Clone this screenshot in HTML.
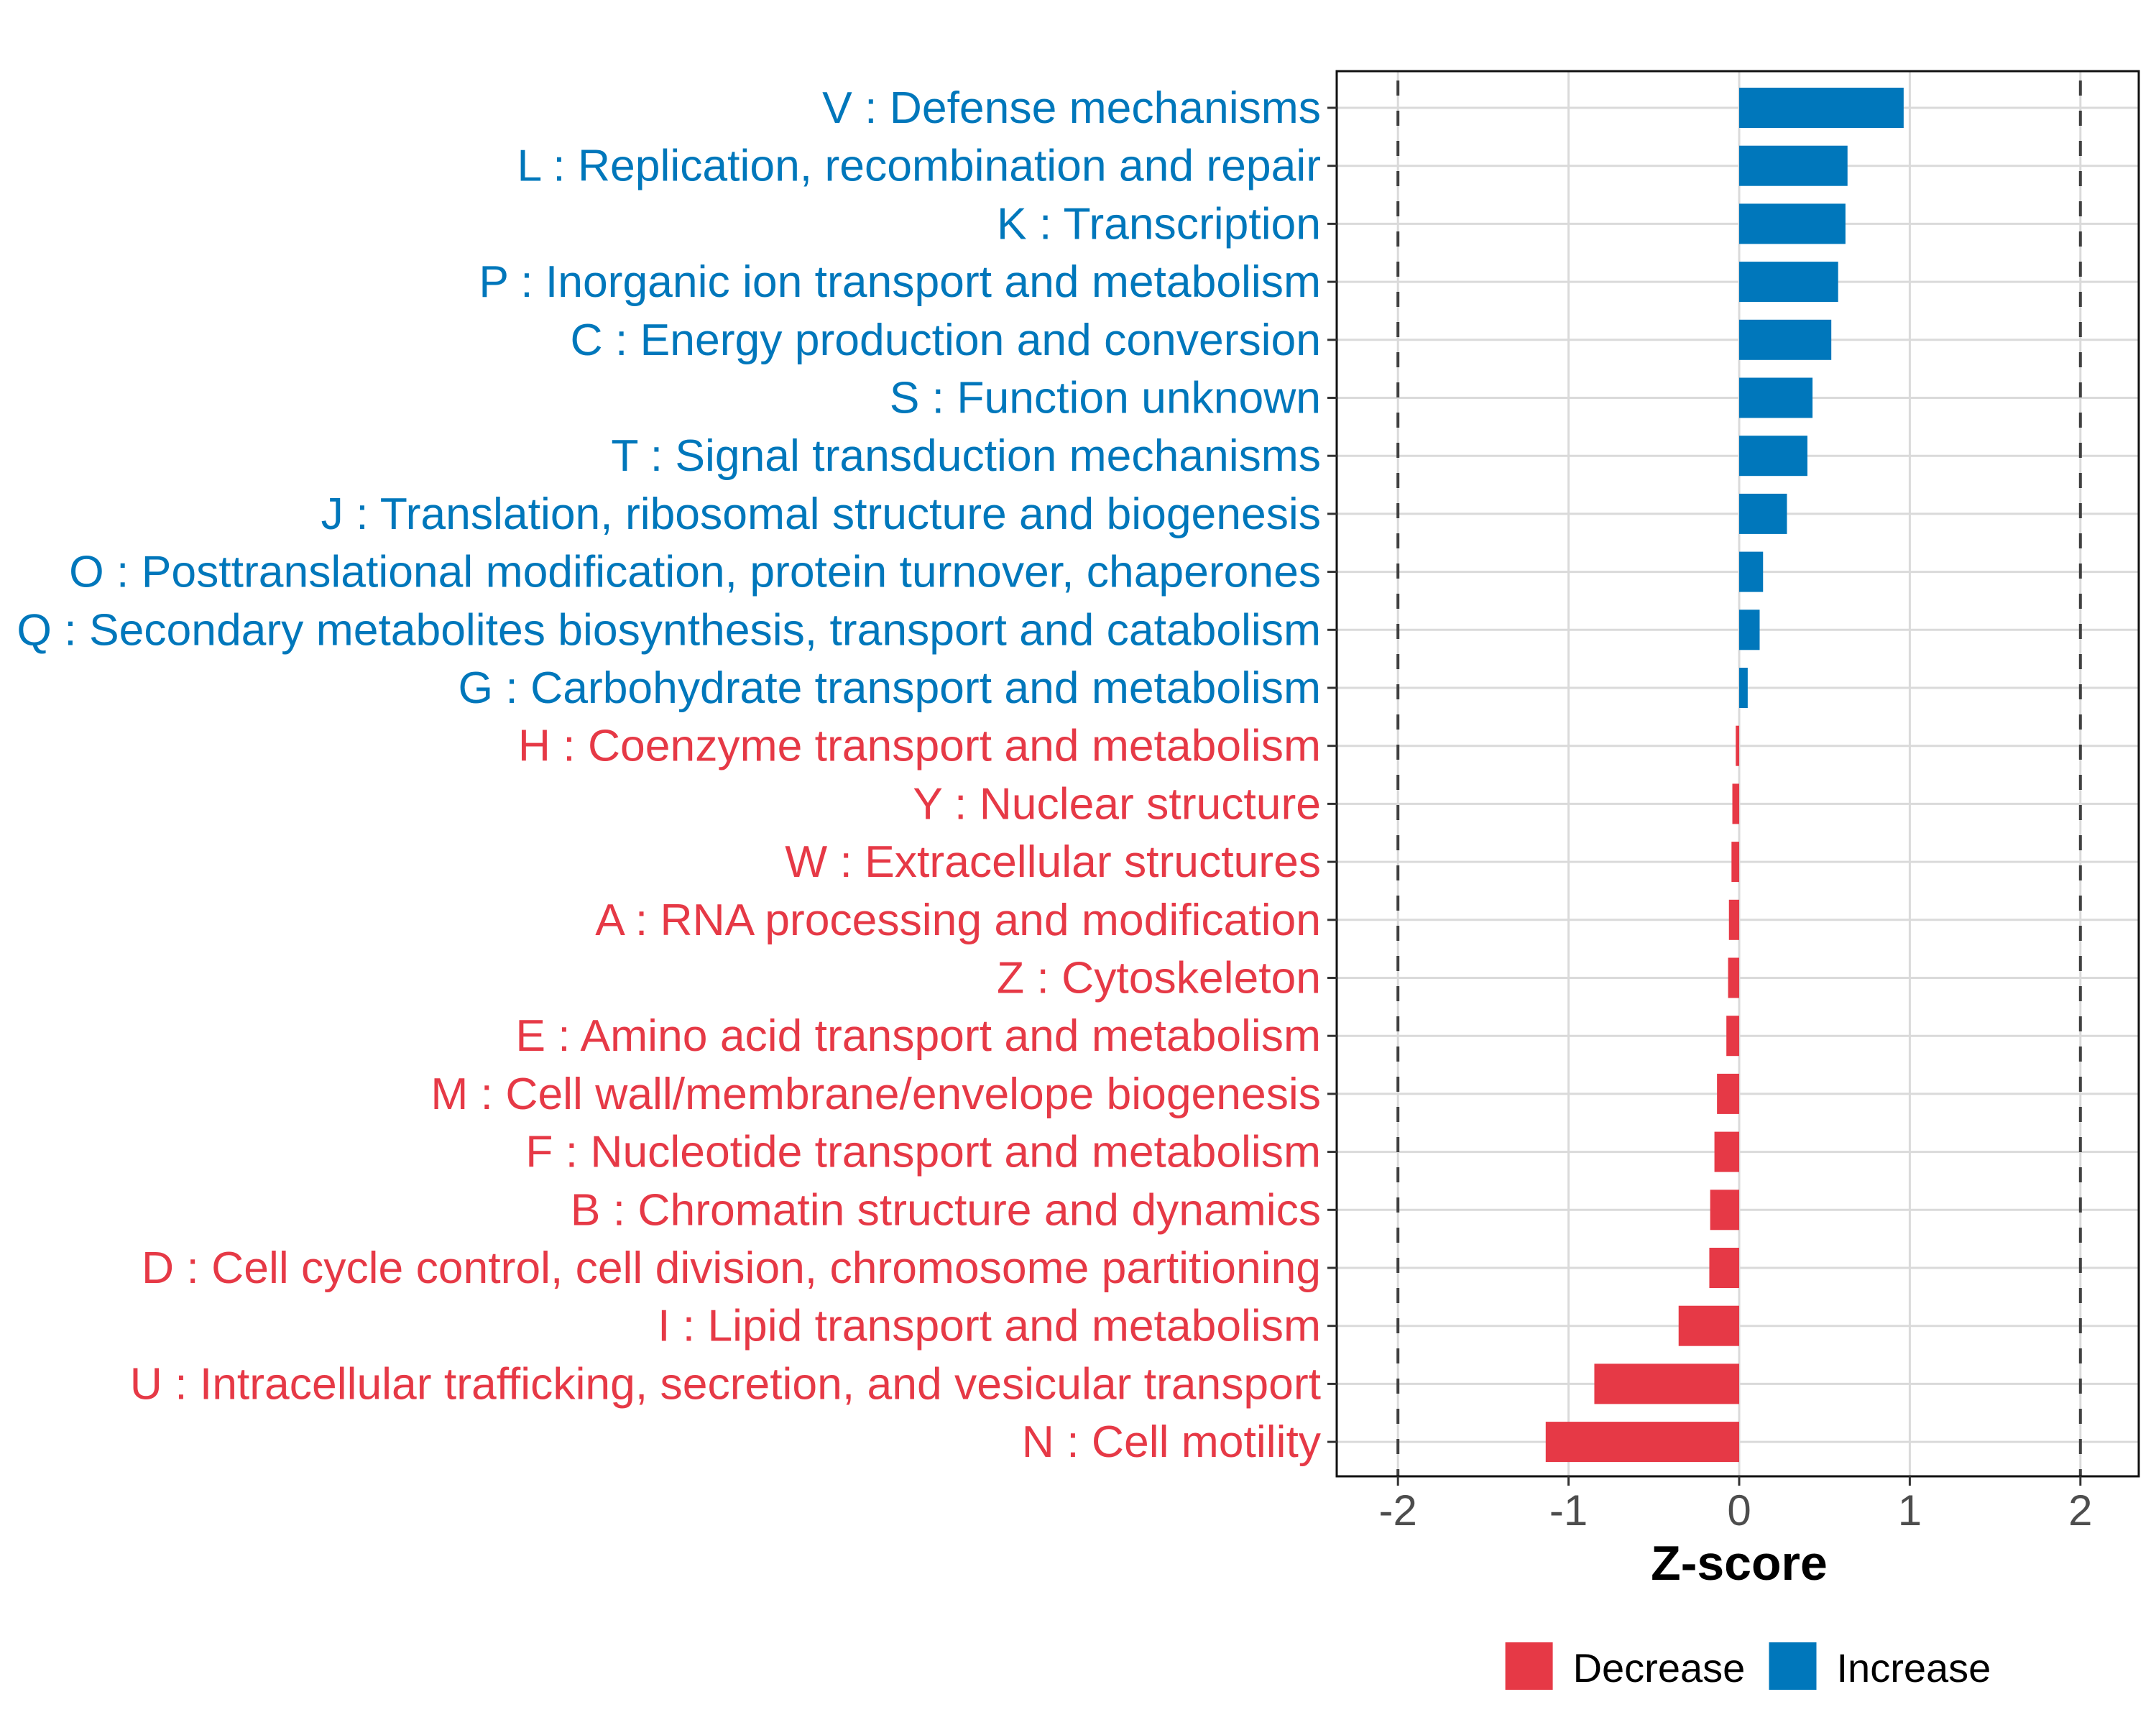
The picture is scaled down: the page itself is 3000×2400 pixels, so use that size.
<!DOCTYPE html>
<html><head><meta charset="utf-8"><style>
html,body{margin:0;padding:0;background:#fff;}
svg{display:block;font-family:"Liberation Sans",Arial,sans-serif;}
</style></head><body>
<svg id="chart" width="3000" height="2400" viewBox="0 0 3000 2400" xmlns="http://www.w3.org/2000/svg">
<rect width="3000" height="2400" fill="#fff"/>
<g id="grid"></g><g id="bars"></g><g id="frame"></g><g id="labels"></g>
</svg>
<script>
const categories = ["V : Defense mechanisms","L : Replication, recombination and repair","K : Transcription","P : Inorganic ion transport and metabolism","C : Energy production and conversion","S : Function unknown","T : Signal transduction mechanisms","J : Translation, ribosomal structure and biogenesis","O : Posttranslational modification, protein turnover, chaperones","Q : Secondary metabolites biosynthesis, transport and catabolism","G : Carbohydrate transport and metabolism","H : Coenzyme transport and metabolism","Y : Nuclear structure","W : Extracellular structures","A : RNA processing and modification","Z : Cytoskeleton","E : Amino acid transport and metabolism","M : Cell wall/membrane/envelope biogenesis","F : Nucleotide transport and metabolism","B : Chromatin structure and dynamics","D : Cell cycle control, cell division, chromosome partitioning","I : Lipid transport and metabolism","U : Intracellular trafficking, secretion, and vesicular transport","N : Cell motility"];
const zscores = [0.964,0.635,0.623,0.58,0.54,0.43,0.40,0.28,0.14,0.12,0.05,-0.02,-0.04,-0.045,-0.06,-0.065,-0.075,-0.13,-0.145,-0.17,-0.175,-0.355,-0.849,-1.134];
const xTicks = [-2,-1,0,1,2];
const xTickLabels = ["-2","-1","0","1","2"];
const thresholds = [-2,2];
const legendLabels = ["Decrease","Increase"];

const NS="http://www.w3.org/2000/svg";
const PL=1860, PR=2976, PT=99, PB=2054;
const X0=2420, UNIT=237.4;
const ROW0=150, STEP=80.7, BARH=56;
const BLUE="#0077bb", RED="#e63946";
function xs(v){return X0+v*UNIT;}
function ys(i){return ROW0+i*STEP;}
function mk(tag,attrs,parent){const e=document.createElementNS(NS,tag);for(const k in attrs)e.setAttribute(k,attrs[k]);parent.appendChild(e);return e;}
const grid=document.getElementById('grid'),bars=document.getElementById('bars'),frame=document.getElementById('frame'),labels=document.getElementById('labels');

categories.forEach((c,i)=>{
  const l=mk('line',{x1:PL,x2:PR,y1:ys(i),y2:ys(i),stroke:'#dadada','stroke-width':3},grid);
  
  
});
xTicks.forEach(t=>{
  const l=mk('line',{x1:xs(t),x2:xs(t),y1:PT,y2:PB,stroke:'#dadada','stroke-width':3},grid);
  
  
});
thresholds.forEach(t=>{
  const l=mk('line',{x1:xs(t),x2:xs(t),y1:PT,y2:PB,stroke:'#404040','stroke-width':4,'stroke-dasharray':'21 21','stroke-dashoffset':'-13'},grid);
  
  
});
zscores.forEach((v,i)=>{
  const x=Math.min(xs(0),xs(v)), w=Math.abs(xs(v)-xs(0));
  const r=mk('rect',{x:x,y:ys(i)-BARH/2,width:w,height:BARH,fill:v>=0?BLUE:RED},bars);
  
  
});
const border=mk('rect',{x:PL,y:PT,width:PR-PL,height:PB-PT,fill:'none',stroke:'#111','stroke-width':3},frame);


const FS=60;
const catTexts=[];
categories.forEach((c,i)=>{
  const tk=mk('line',{x1:PL-13,x2:PL,y1:ys(i),y2:ys(i),stroke:'#333','stroke-width':3},frame);
  
  
  const t=mk('text',{x:1838,y:ys(i)+21,'text-anchor':'end','font-size':FS,fill:zscores[i]>=0?BLUE:RED},labels);
  t.textContent=c;
  
  
  catTexts.push(t);
});
let maxW=0;catTexts.forEach(t=>{maxW=Math.max(maxW,t.getComputedTextLength());});
if(maxW>0){const fs=FS*1815/maxW;catTexts.forEach(t=>t.setAttribute('font-size',fs.toFixed(2)));}
xTicks.forEach((v,i)=>{
  const tk=mk('line',{x1:xs(v),x2:xs(v),y1:PB,y2:PB+13,stroke:'#333','stroke-width':3},frame);
  
  
  const t=mk('text',{x:xs(v),y:2122,'text-anchor':'middle','font-size':60,fill:'#4d4d4d'},labels);
  t.textContent=xTickLabels[i];
  
  
});
const at=mk('text',{x:X0,y:2198,'text-anchor':'middle','font-size':68,'font-weight':'bold',fill:'#000'},labels);
at.textContent="Z-score";


const legX=[2094.6,2461.5], legCol=[RED,BLUE];
legendLabels.forEach((lab,i)=>{
  const k=mk('rect',{x:legX[i],y:2285,width:66,height:66,fill:legCol[i]},labels);
  
  
  const t=mk('text',{x:legX[i]+94,y:2340,'font-size':56,fill:'#000'},labels);
  t.textContent=lab;
  
  
});
</script>
</body></html>
